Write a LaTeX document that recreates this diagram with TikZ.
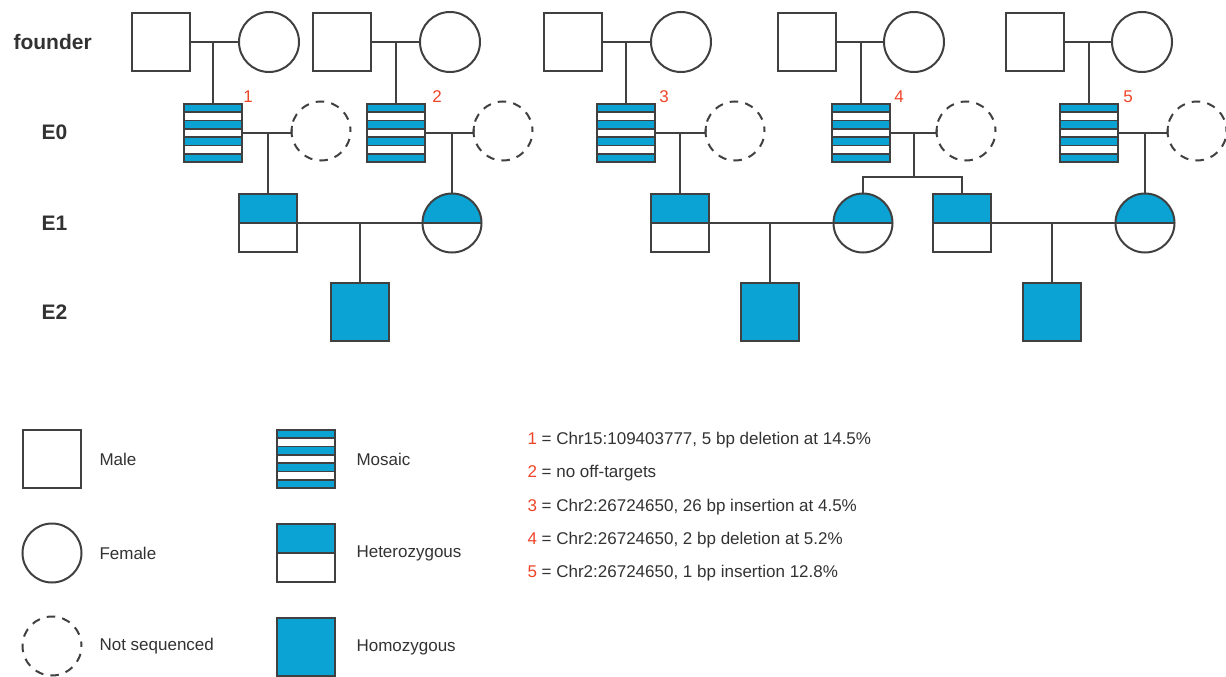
\documentclass[tikz,border=0pt]{standalone}
\usepackage{fontspec}
\setmainfont{Liberation Sans}
\usetikzlibrary{calc}
\definecolor{cblue}{RGB}{10,163,212}
\definecolor{cline}{RGB}{64,64,64}
\definecolor{cred}{RGB}{238,68,40}
\definecolor{ctext}{RGB}{50,50,50}
\tikzset{
  ln/.style={draw=cline, line width=1.8pt},
  male/.style={rectangle, draw=cline, line width=2pt, minimum size=58pt, inner sep=0pt, outer sep=0pt},
  female/.style={circle, draw=cline, line width=2pt, minimum size=59pt, inner sep=0pt, outer sep=0pt},
  nseq/.style={female, dash pattern=on 8.5pt off 7.2pt, dash phase=4pt},
  hom/.style={male, fill=cblue},
  het/.style={path picture={\fill[cblue] (path picture bounding box.north west) rectangle (path picture bounding box.east);
     \draw[cline, line width=2pt] (path picture bounding box.west) -- (path picture bounding box.east);}},
  mosaic/.style={male, path picture={
     \foreach \k in {0,2,4,6}{
       \fill[cblue] ([yshift={29pt-\k*8.2857pt}]path picture bounding box.west) rectangle ([yshift={29pt-(\k+1)*8.2857pt}]path picture bounding box.east);}
     \foreach \k in {1,...,6}{
       \draw[cline, line width=1.6pt] ([yshift={29pt-\k*8.2857pt}]path picture bounding box.west) -- ([yshift={29pt-\k*8.2857pt}]path picture bounding box.east);}
  }},
  gen/.style={anchor=west, font=\fontsize{21}{24}\selectfont\bfseries, text=ctext},
  num/.style={font=\fontsize{17}{20}\selectfont, text=cred},
  txt/.style={anchor=west, font=\fontsize{17}{20}\selectfont, text=ctext},
}
\begin{document}
\begin{tikzpicture}[x=1pt, y=-1pt]
\useasboundingbox (0,0) rectangle (1226,677);
% generation labels
\node[gen] (lf) at (10,42) {founder};
\node[gen] (l0) at (38,132) {E0};
\node[gen] (l1) at (38,223) {E1};
\node[gen] (l2) at (38,312) {E2};
% founders
\foreach \i/\mx/\fx in {1/161/269, 2/342/450, 3/573/681, 4/807/914, 5/1035/1142}{
  \node[male] (fm\i) at (\mx,42) {};
  \node[female, minimum width=60pt, minimum height=58pt] (ff\i) at (\fx,42) {};
}
% E0
\foreach \i/\x/\nx/\lx in {1/213/321/248, 2/396/503/437, 3/626/735/664, 4/861/966/899, 5/1089/1197/1128}{
  \node[mosaic] (mo\i) at (\x,133) {};
  \node[nseq] (ns\i) at (\nx,131) {};
  \node[num] (n\i) at (\lx,97) {\i};
}
% E1
\node[male, het] (e1a) at (268,223) {};
\node[female, het] (e1b) at (452,223) {};
\node[male, het] (e1c) at (680,223) {};
\node[female, het] (e1d) at (863,223) {};
\node[male, het] (e1e) at (962,223) {};
\node[female, het] (e1f) at (1145,223) {};
% E2
\node[hom] (e2a) at (360,312) {};
\node[hom] (e2b) at (770,312) {};
\node[hom] (e2c) at (1052,312) {};
% founder marriages and descents
\foreach \i in {1,...,5}{
  \draw[ln] (fm\i.east) -- (ff\i.west);
  \draw[ln] (mo\i.north) -- (mo\i.north |- fm\i.east);
  \coordinate (j\i) at ([yshift=-2pt]ns\i.west);
  \draw[ln] (mo\i.east |- j\i) -- (j\i) -- (ns\i.170);
}
% E0 descents
\draw[ln] (e1a.north) -- (e1a.north |- j1);
\draw[ln] (e1b.north) -- (e1b.north |- j2);
\draw[ln] (e1c.north) -- (e1c.north |- j3);
\coordinate (s4) at (914,177);
\draw[ln] (s4) -- (s4 |- j4);
\draw[ln] (e1d.north) -- (e1d.north |- s4) -- (e1e.north |- s4) -- (e1e.north);
\draw[ln] (e1f.north) -- (e1f.north |- j5);
% E1 marriages
\draw[ln] (e1a.east) -- (e1b.west);
\draw[ln] (e1c.east) -- (e1d.west);
\draw[ln] (e1e.east) -- (e1f.west);
\draw[ln] (e2a.north) -- (e2a.north |- e1a.east);
\draw[ln] (e2b.north) -- (e2b.north |- e1c.east);
\draw[ln] (e2c.north) -- (e2c.north |- e1e.east);
% legend
\node[male] (lgm) at (52,459) {};
\node[txt] (tm) at (96,459) {Male};
\node[female] (lgf) at (52,553) {};
\node[txt] (tf) at (96,553) {Female};
\node[nseq] (lgn) at (52,646) {};
\node[txt] (tn) at (96,646) {Not sequenced};
\node[mosaic] (lgmo) at (306,459) {};
\node[txt] (tmo) at (353,459) {Mosaic};
\node[male, het] (lghe) at (306,553) {};
\node[txt] (the) at (353,553) {Heterozygous};
\node[hom] (lgho) at (306,647) {};
\node[txt] (tho) at (353,647) {Homozygous};
% notes
\node[txt] (t1) at (524,440) {\textcolor{cred}{1} = Chr15:109403777, 5 bp deletion at 14.5\%};
\node[txt] (t2) at (524,473) {\textcolor{cred}{2} = no off-targets};
\node[txt] (t3) at (524,507) {\textcolor{cred}{3} = Chr2:26724650, 26 bp insertion at 4.5\%};
\node[txt] (t4) at (524,540) {\textcolor{cred}{4} = Chr2:26724650, 2 bp deletion at 5.2\%};
\node[txt] (t5) at (524,573) {\textcolor{cred}{5} = Chr2:26724650, 1 bp insertion 12.8\%};
\end{tikzpicture}
\end{document}
